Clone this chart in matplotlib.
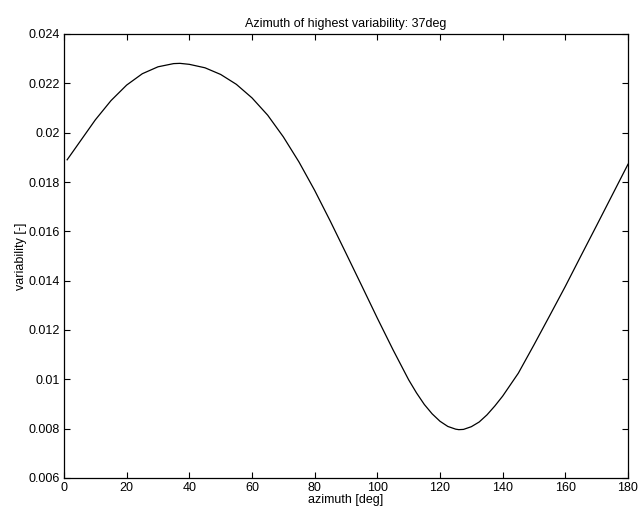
import matplotlib
matplotlib.use("Agg")
import matplotlib.pyplot as plt

# azimuth [deg] and variability values
azimuth = [1, 5, 10, 15, 20, 25, 30, 35, 37, 40, 45, 50, 55, 60, 65, 70, 75,
           80, 85, 90, 95, 100, 105, 110, 112.5, 115, 117.5, 120, 122.5, 125,
           126, 127.5, 130, 132.5, 135, 137.5, 140, 145, 150, 155, 160, 165,
           170, 175, 180]
variability = [0.01890, 0.01962, 0.02052, 0.02130, 0.02193, 0.02239, 0.02267,
               0.02280, 0.02281, 0.02277, 0.02263, 0.02236, 0.02196, 0.02141,
               0.02071, 0.01983, 0.01881, 0.01766, 0.01641, 0.01511, 0.01380,
               0.01248, 0.01120, 0.00998, 0.00945, 0.00898, 0.00860, 0.00830,
               0.00809, 0.00798, 0.00796, 0.00797, 0.00808, 0.00827, 0.00856,
               0.00892, 0.00932, 0.01025, 0.01140, 0.01258, 0.01377, 0.01501,
               0.01624, 0.01748, 0.01872]

xticks = [0, 20, 40, 60, 80, 100, 120, 140, 160, 180]
yticks = [0.006, 0.008, 0.01, 0.012, 0.014, 0.016, 0.018, 0.02, 0.022, 0.024]
yticklabels = ["0.006", "0.008", "0.01", "0.012", "0.014", "0.016", "0.018",
               "0.02", "0.022", "0.024"]

plt.rcParams['font.family'] = ['Liberation Sans', 'DejaVu Sans']
plt.rcParams['font.size'] = 9

fig = plt.figure(figsize=(6.38, 5.12), dpi=100)
ax = fig.add_axes([64 / 638, 1 - 478 / 512, 564 / 638, 444 / 512])
ax.plot(azimuth, variability, color="black", linewidth=0.9)

ax.set_xlim(0, 180)
ax.set_ylim(0.006, 0.024)
ax.set_xticks(xticks)
ax.set_yticks(yticks)
ax.set_yticklabels(yticklabels)
ax.tick_params(direction="in", length=4.5, width=0.8, top=True, right=True,
               labelsize=9, pad=3)
for s in ax.spines.values():
    s.set_linewidth(0.9)

ax.set_title("Azimuth of highest variability: 37deg", fontsize=9, pad=5)
ax.set_xlabel("azimuth [deg]", fontsize=9, labelpad=0)
ax.set_ylabel("variability [-]", fontsize=9, labelpad=1)

fig.savefig("out.png", dpi=100)
